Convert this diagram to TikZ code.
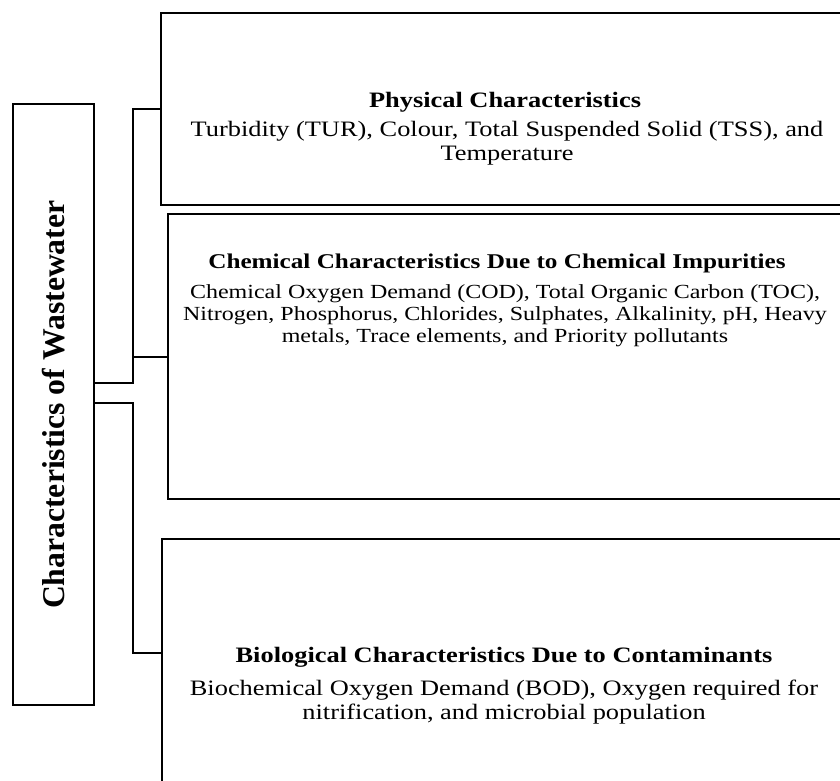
\documentclass[tikz,border=0pt]{standalone}
\usepackage{fontspec}
\setmainfont{Liberation Serif}[FakeStretch=1.2]
\newfontfamily\sidefont{Liberation Serif}
\begin{document}
\begin{tikzpicture}[x=1pt,y=-1pt,
    box/.style={draw,line width=2.4pt,inner sep=0pt,anchor=north west},
    link/.style={draw,line width=2.2pt},
    head/.style={font=\fontsize{22}{24}\selectfont\bfseries},
    body/.style={font=\fontsize{22}{24}\selectfont,align=center}]
  \useasboundingbox (0,0) rectangle (840,780);
  \clip (0,0) rectangle (840,780);
  \node[box,minimum width=81pt,minimum height=601pt] (wt) at (12,103) {};
  \node[rotate=90,font=\sidefont\fontsize{31.7}{34}\selectfont\bfseries] (wtlabel) at (wt.center) {Characteristics of Wastewater};
  \node[box,minimum width=700pt,minimum height=192pt] (phys) at (160,12) {};
  \node[box,minimum width=700pt,minimum height=285pt] (chem) at (167,213) {};
  \node[box,minimum width=700pt,minimum height=262pt] (bio) at (161,538) {};
  \node[head] (physhead) at (505,102) {Physical Characteristics};
  \node[body] (physbody) at (507,143) {Turbidity (TUR), Colour, Total Suspended Solid (TSS), and\\Temperature};
  \node[head,font=\fontsize{21}{23}\selectfont\bfseries] (chemhead) at (497,263) {Chemical Characteristics Due to Chemical Impurities};
  \node[body,font=\fontsize{20}{22}\selectfont] (chembody) at (505,316) {Chemical Oxygen Demand (COD), Total Organic Carbon (TOC),\\Nitrogen, Phosphorus, Chlorides, Sulphates, Alkalinity, pH, Heavy\\metals, Trace elements, and Priority pollutants};
  \node[head] (biohead) at (504,657) {Biological Characteristics Due to Contaminants};
  \node[body] (biobody) at (504,702) {Biochemical Oxygen Demand (BOD), Oxygen required for\\nitrification, and microbial population};
  \coordinate (upper) at (133,383);
  \coordinate (lower) at (133,403);
  \draw[link] (wt.east |- upper) -- (upper) |- (phys.west);
  \draw[link] (wt.east |- upper) -- (upper) |- (chem.west);
  \draw[link] (wt.east |- lower) -- (lower) |- ([yshift=17pt]bio.west);
\end{tikzpicture}
\end{document}
